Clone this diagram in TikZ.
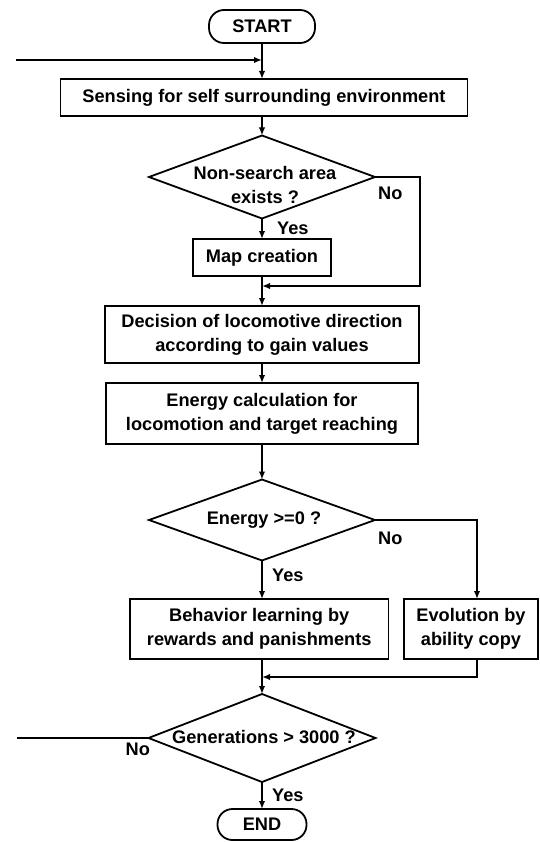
\documentclass[tikz,border=0pt]{standalone}
\usepackage{fontspec}
\setmainfont{Liberation Sans}
\usetikzlibrary{shapes.geometric,arrows.meta}
\newcommand\lbl{\fontsize{18.2}{24}\selectfont\bfseries}
\tikzset{
  ln/.style={line width=1.8pt},
  arr/.style={line width=1.8pt,-{Latex[length=8pt,width=6.5pt]}},
  box/.style={draw,line width=1.8pt,rectangle,inner sep=0pt,outer sep=0pt,align=center,font=\lbl},
  term/.style={draw,line width=1.8pt,rectangle,rounded corners=15pt,inner sep=0pt,outer sep=0pt,font=\lbl},
  dia/.style={draw,line width=1.8pt,diamond,inner sep=0pt,outer sep=0pt},
  dtxt/.style={inner sep=0pt,align=center,font=\lbl},
  lab/.style={anchor=west,inner sep=0pt,font=\lbl}
}
\begin{document}
\begin{tikzpicture}[x=1pt,y=-1pt]
\useasboundingbox (0,0) rectangle (539,842);
% nodes
\node[term,minimum width=106pt,minimum height=33pt] (start) at (262,26.5) {START};
\node[box,minimum width=407pt,minimum height=37pt] (sens) at (264,97.5) {Sensing for self surrounding environment};
\node[dia,minimum width=226pt,minimum height=83pt] (d1) at (262,177) {};
\node[dtxt] (d1t) at (265,185) {Non-search area\\exists ?};
\node[box,minimum width=137.5pt,minimum height=37pt] (map) at (262,257.5) {Map creation};
\node[box,minimum width=314.6pt,minimum height=57pt] (dec) at (262,334.5) {Decision of locomotive direction\\according to gain values};
\node[box,minimum width=312.5pt,minimum height=61pt] (en) at (262,413.5) {Energy calculation for\\locomotion and target reaching};
\node[dia,minimum width=226pt,minimum height=81pt] (d2) at (262,520) {};
\node[dtxt] (d2t) at (264,520) {Energy >=0 ?};
\node[box,minimum width=258.5pt,minimum height=60pt] (beh) at (259.25,629) {Behavior learning by\\rewards and panishments};
\node[box,minimum width=134pt,minimum height=60pt] (evo) at (471,629) {Evolution by\\ability copy};
\node[dia,minimum width=227pt,minimum height=88pt] (d3) at (262,738) {};
\node[dtxt] (d3t) at (264,737) {Generations > 3000 ?};
\node[term,minimum width=89pt,minimum height=31pt] (end) at (262,824.5) {END};
% labels
\node[lab] (y1) at (277,228) {Yes};
\node[lab] (n1) at (378,193) {No};
\node[lab] (y2) at (272,575) {Yes};
\node[lab] (n2) at (378,538) {No};
\node[lab] (n3) at (125.5,749) {No};
\node[lab] (y3) at (272,795) {Yes};
% coordinates
\coordinate (inL) at (15.5,60);
\coordinate (c1) at (420,286);
\coordinate (c2) at (477,500);
\coordinate (c3) at (477,677);
\coordinate (outL) at (17,734);
% connectors
\draw[arr] (start.south) -- (start.south |- sens.north);
\draw[arr] (inL) -- (inL -| start.south);
\draw[arr] (sens.south -| d1.north) -- (d1.north);
\draw[arr] (d1.south) -- (d1.south |- map.north);
\draw[arr] (map.south) -- (map.south |- dec.north);
\draw[arr] (d1.east) -| (c1) -- (c1 -| map.south);
\draw[arr] (dec.south) -- (dec.south |- en.north);
\draw[arr] (en.south) -- (en.south |- d2.north);
\draw[arr] (d2.south) -- (d2.south |- beh.north);
\draw[arr] (d2.east) -| (c2 |- evo.north);
\draw[arr] (beh.south -| d3.north) -- (d3.north);
\draw[arr] (c2 |- evo.south) -- (c3) -- (c3 -| d3.north);
\draw[ln] (d3.west) -- (d3.west -| outL);
\draw[arr] (d3.south) -- (d3.south |- end.north);
\end{tikzpicture}
\end{document}
